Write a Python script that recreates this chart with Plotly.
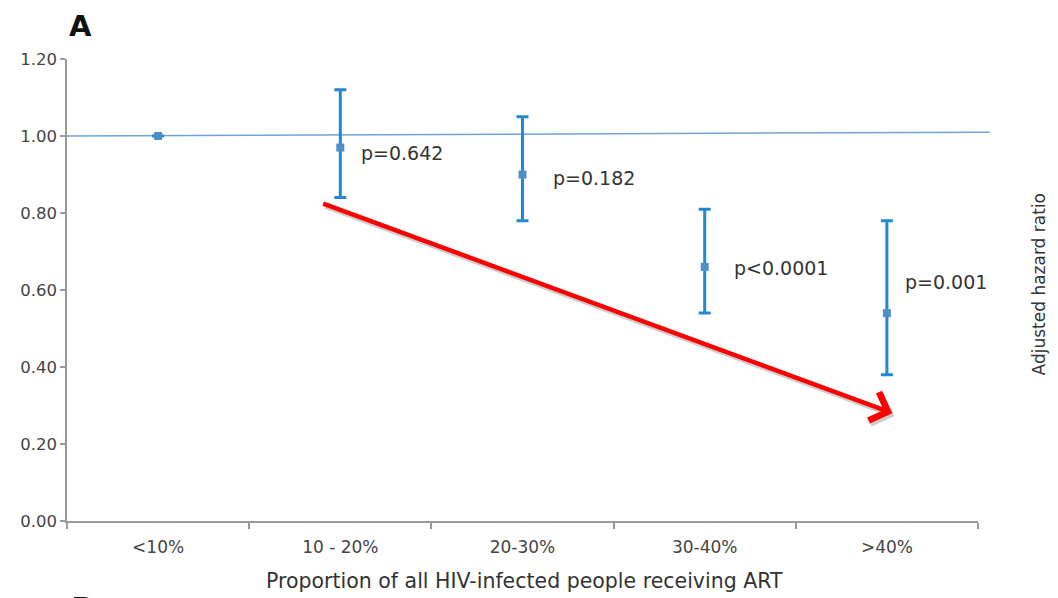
import plotly.graph_objects as go

categories = ["<10%", "10 - 20%", "20-30%", "30-40%", ">40%"]
hazard_ratio = [1.00, 0.97, 0.90, 0.66, 0.54]
ci_lower = [1.00, 0.84, 0.78, 0.54, 0.38]
ci_upper = [1.00, 1.12, 1.05, 0.81, 0.78]
p_labels = ["", "p=0.642", "p=0.182", "p<0.0001", "p=0.001"]
y_ticks = [0.0, 0.2, 0.4, 0.6, 0.8, 1.0, 1.2]

FONT = "DejaVu Sans, Arial"

err_plus = [u - h for u, h in zip(ci_upper, hazard_ratio)]
err_minus = [h - l for h, l in zip(hazard_ratio, ci_lower)]

fig = go.Figure()
fig.add_trace(go.Scatter(
    x=categories, y=hazard_ratio, mode="markers",
    marker=dict(symbol="square", size=8, color="#4d8fc8"),
    error_y=dict(type="data", symmetric=False, array=err_plus, arrayminus=err_minus,
                 color="#2189d0", thickness=3, width=6),
    showlegend=False, hoverinfo="skip",
))

# reference line at HR = 1
fig.add_shape(type="line", xref="paper", yref="y", x0=0, x1=1.013, y0=1.0, y1=1.01,
              line=dict(color="#6fa3d6", width=1.5), layer="below")

annotations = []
label_yshift = [0, -5, -3, -1, 31]
label_xshift = [0, 19, 28, 27, 16]
for i, (c, h, t) in enumerate(zip(categories, hazard_ratio, p_labels)):
    if not t:
        continue
    annotations.append(dict(x=i, y=h, xref="x", yref="y", text=t, showarrow=False,
                            xanchor="left", yanchor="middle",
                            xshift=label_xshift[i], yshift=label_yshift[i],
                            font=dict(family=FONT, size=19, color="#333333")))

# red trend arrow (with soft shadow)
for dx, dy, col in [(2, -3, "rgba(110,110,110,0.35)"), (0, 0, "#ff0000")]:
    annotations.append(dict(x=4.03, y=0.28, ax=0.898, ay=0.826, xref="x", yref="y",
                            axref="x", ayref="y", text="", showarrow=True,
                            arrowhead=4, arrowsize=1.3, arrowwidth=4.5, arrowcolor=col,
                            xshift=dx, yshift=dy))

annotations.append(dict(x=0.0, y=1.0, xref="paper", yref="paper", text="<b>A</b>",
                        showarrow=False, xanchor="left", yanchor="middle", xshift=0, yshift=33,
                        font=dict(family=FONT, size=29, color="#111111")))
annotations.append(dict(x=0.0, y=0, xref="paper", yref="paper", text="<b>B</b>",
                        showarrow=False, xanchor="left", yanchor="top", xshift=2, yshift=-68,
                        font=dict(family=FONT, size=30, color="#111111")))
annotations.append(dict(x=1.068, y=0.512, xref="paper", yref="paper", text="Adjusted hazard ratio",
                        showarrow=False, textangle=-90, xanchor="center", yanchor="middle",
                        font=dict(family=FONT, size=17, color="#333333")))
annotations.append(dict(x=0.5, y=-0.13, xref="paper", yref="paper",
                        text="Proportion of all HIV-infected people receiving ART",
                        showarrow=False, xanchor="center", yanchor="middle", xshift=2,
                        font=dict(family=FONT, size=20.5, color="#333333")))

fig.update_layout(
    width=1050, height=590,
    margin=dict(l=55, r=80, t=51, b=77),
    paper_bgcolor="white", plot_bgcolor="white",
    annotations=annotations,
    font=dict(family=FONT, color="#444444"),
    xaxis=dict(type="category", range=[-0.5, 4.5], tickson="boundaries",
               ticks="outside", ticklen=6, tickcolor="#999999", tickwidth=1.5,
               ticklabelstandoff=10,
               showline=True, linecolor="#999999", linewidth=1.5, showgrid=False, zeroline=False,
               tickfont=dict(family=FONT, size=17, color="#444444")),
    yaxis=dict(range=[0, 1.2], tickvals=y_ticks, tickformat=".2f",
               ticks="outside", ticklen=5, tickcolor="#999999", tickwidth=1.5,
               showline=True, linecolor="#999999", linewidth=1.5, showgrid=False, zeroline=False,
               tickfont=dict(family=FONT, size=16.5, color="#444444")),
)

fig.write_html("out.html")
